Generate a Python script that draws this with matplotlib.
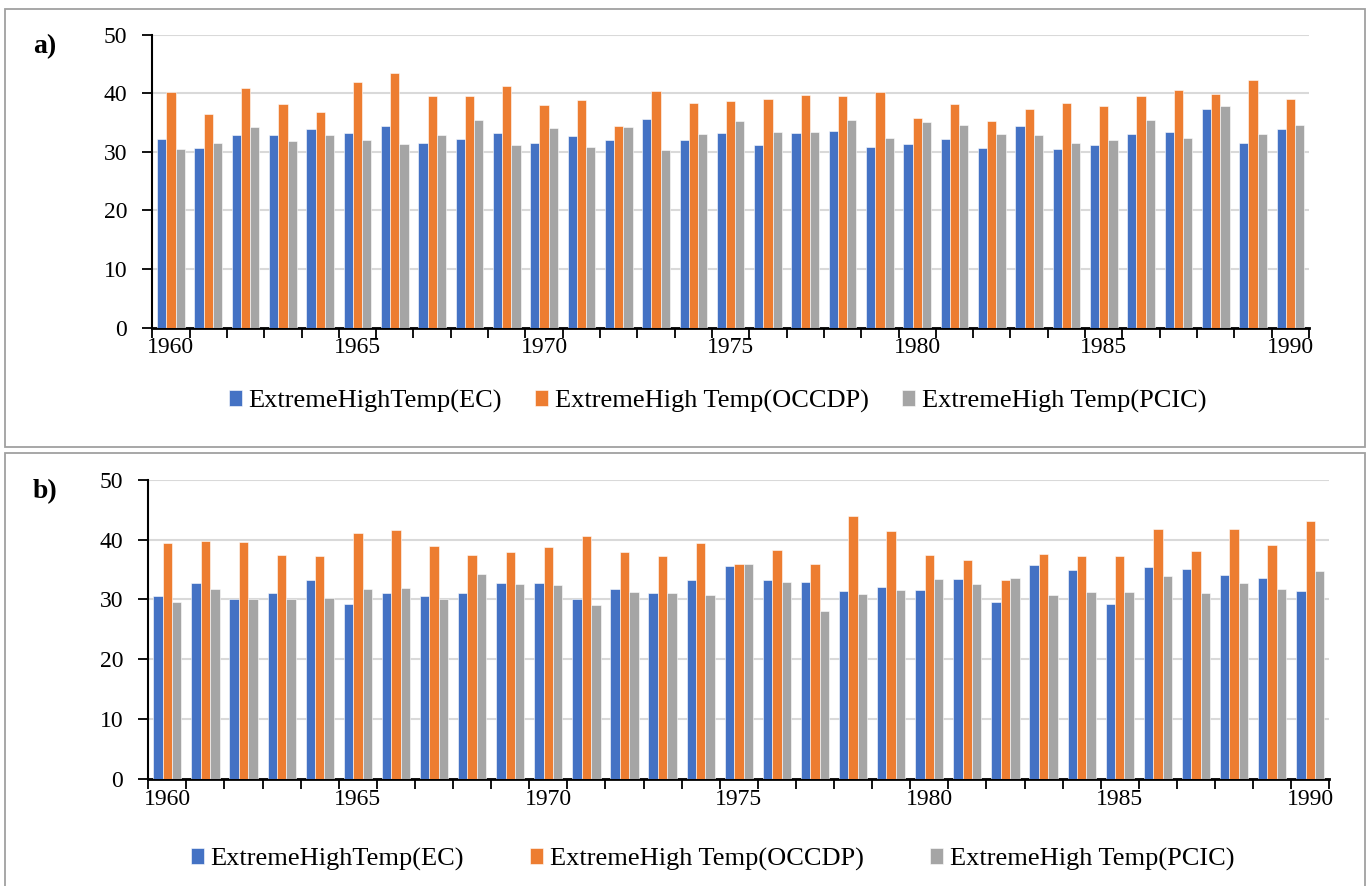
import matplotlib
matplotlib.use("Agg")
import matplotlib.pyplot as plt
from matplotlib.patches import Rectangle
import numpy as np

years = list(range(1960, 1991))
tick_years = [1960, 1965, 1970, 1975, 1980, 1985, 1990]
series_names = ["ExtremeHighTemp(EC)", "ExtremeHigh Temp(OCCDP)", "ExtremeHigh Temp(PCIC)"]
colors = ["#4472C4", "#ED7D31", "#A5A5A5"]

a_ec = [32.2, 30.6, 32.8, 32.8, 33.9, 33.3, 34.4, 31.6, 32.2, 33.3,
        31.6, 32.7, 32.1, 35.6, 32.1, 33.3, 31.1, 33.2, 33.6, 30.9,
        31.3, 32.2, 30.6, 34.4, 30.5, 31.1, 33.0, 33.4, 37.4, 31.5, 33.9]
a_occdp = [40.3, 36.5, 40.9, 38.1, 36.8, 41.9, 43.4, 39.6, 39.6, 41.2,
           38.0, 38.9, 34.4, 40.4, 38.3, 38.7, 39.1, 39.7, 39.5, 40.2,
           35.7, 38.1, 35.3, 37.3, 38.3, 37.8, 39.5, 40.5, 39.9, 42.3, 39.0]
a_pcic = [30.5, 31.5, 34.2, 31.9, 32.8, 32.1, 31.3, 32.9, 35.4, 31.2,
          34.1, 30.8, 34.2, 30.4, 33.0, 35.3, 33.4, 33.4, 35.5, 32.4,
          35.1, 34.6, 33.0, 32.8, 31.5, 32.0, 35.5, 32.4, 37.8, 33.0, 34.6]

b_ec = [30.5, 32.7, 30.0, 31.1, 33.2, 29.3, 31.1, 30.5, 31.1, 32.7,
        32.7, 30.0, 31.7, 31.1, 33.2, 35.6, 33.2, 32.9, 31.4, 32.1,
        31.5, 33.4, 29.5, 35.7, 34.9, 29.2, 35.4, 35.0, 34.0, 33.5, 31.4]
b_occdp = [39.4, 39.8, 39.6, 37.4, 37.2, 41.1, 41.6, 38.9, 37.4, 38.0,
           38.7, 40.6, 37.9, 37.2, 39.4, 36.0, 38.3, 35.9, 43.9, 41.4,
           37.4, 36.6, 33.2, 37.6, 37.2, 37.2, 41.8, 38.1, 41.8, 39.1, 43.1]
b_pcic = [29.6, 31.8, 30.0, 30.0, 30.2, 31.7, 31.9, 30.0, 34.2, 32.5,
          32.4, 29.1, 31.3, 31.1, 30.8, 36.0, 32.9, 28.1, 30.9, 31.6,
          33.4, 32.6, 33.6, 30.7, 31.2, 31.2, 33.9, 31.0, 32.7, 31.8, 34.8]

W, H = 1369, 886
fig = plt.figure(figsize=(W / 100, H / 100), dpi=100)
plt.rcParams['font.family'] = ['Liberation Serif', 'DejaVu Serif']

# panel borders
fig.patches.append(Rectangle((4.5 / W, 1 - 447 / H), (1365 - 4.5) / W, (447 - 9.3) / H,
                             transform=fig.transFigure, fill=False, edgecolor="#a0a0a0", lw=1.3))
fig.patches.append(Rectangle((4.5 / W, -0.01), (1365 - 4.5) / W, 1 - 453 / H + 0.01,
                             transform=fig.transFigure, fill=False, edgecolor="#a0a0a0", lw=1.3))


def draw_panel(rect, data, label, label_pos, legend_pos, colspacing):
    ax = fig.add_axes(rect)
    x = np.arange(len(years))
    bw = 0.247
    for k, (vals, c, name) in enumerate(zip(data, colors, series_names)):
        ax.bar(x + (k - 1) * bw, vals, width=bw, color=c, edgecolor="white",
               linewidth=0.4, label=name, zorder=3)
    ax.set_xlim(-0.5, len(years) - 0.5)
    ax.set_ylim(0, 50)
    ax.set_yticks([0, 10, 20, 30, 40, 50])
    ax.yaxis.grid(True, color="#d9d9d9", linewidth=1.5, zorder=0)
    ax.set_axisbelow(True)
    for s in ["top", "right"]:
        ax.spines[s].set_visible(False)
    ax.spines["left"].set_linewidth(1.5)
    ax.spines["bottom"].set_linewidth(2.0)
    ax.tick_params(axis="y", length=7, width=1.3, pad=11, labelsize=17)
    ticks_idx = [years.index(t) for t in tick_years]
    ax.set_xticks(ticks_idx)
    ax.set_xticklabels([str(t) for t in tick_years])
    ax.set_xticks(np.arange(-0.5, len(years), 1.0), minor=True)
    ax.tick_params(axis="x", which="major", length=0, pad=7, labelsize=17)
    ax.tick_params(axis="x", which="minor", length=7, width=1.3)
    fig.text(label_pos[0] / W, 1 - label_pos[1] / H, label, fontsize=20, fontweight="bold",
             ha="left", va="center")
    fig.legend(*ax.get_legend_handles_labels(), loc="center",
               bbox_to_anchor=(legend_pos[0] / W, 1 - legend_pos[1] / H),
               ncol=3, frameon=False, fontsize=19, handlelength=0.5,
               handleheight=0.55, handletextpad=0.25, columnspacing=colspacing,
               borderaxespad=0, borderpad=0)
    return ax


draw_panel([152.3 / W, 1 - 327.7 / H, (1309 - 152.3) / W, 293 / H],
           [a_ec, a_occdp, a_pcic], "a)", (33, 47), (717.5, 401), 1.25)
draw_panel([148.3 / W, 1 - 779 / H, (1329.3 - 148.3) / W, 299.3 / H],
           [b_ec, b_occdp, b_pcic], "b)", (33, 492), (712.5, 859), 2.5)

fig.savefig("out.png", dpi=100)
